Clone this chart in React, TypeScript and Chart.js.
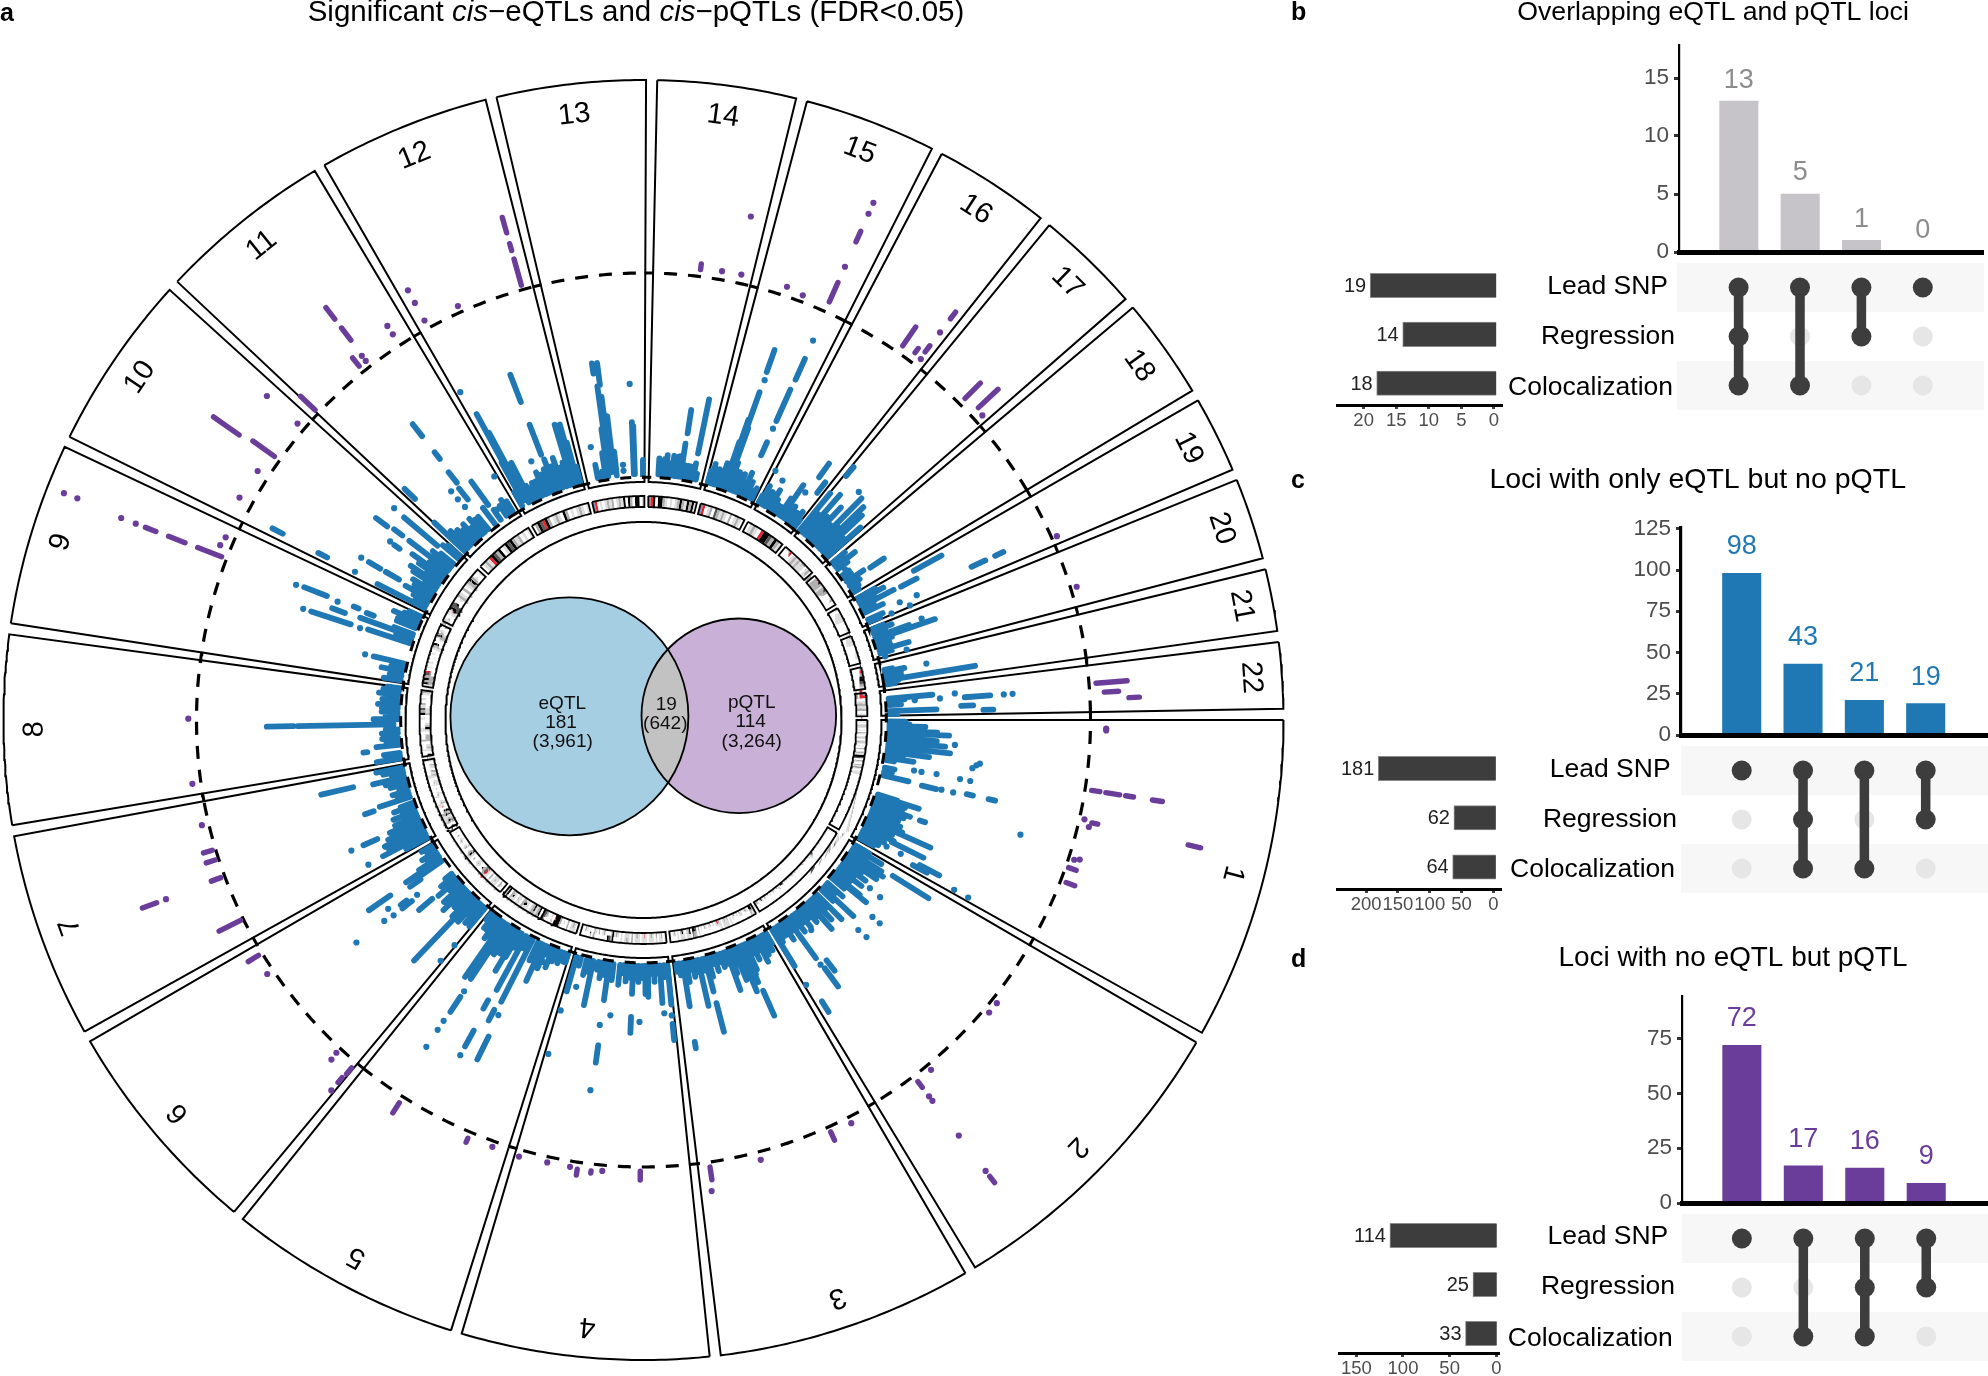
import React, { useEffect, useRef } from "react";
import { Chart, registerables } from "chart.js";

Chart.register(...registerables);

// ---------- genome ----------
const chromosomes = ["1","2","3","4","5","6","7","8","9","10","11","12","13","14","15","16","17","18","19","20","21","22"];
const chromLengthsMb = [249,243,198,191,181,171,159,146,141,136,135,133,115,107,102,90,81,78,59,63,48,51];

// ---------- eQTL loci: [Mb, value] is one lead point, [Mb, low, high] a run of points ----------
const chr1E = [[3,2,6],[8,2,7],[12,2,11],[16,2,7],[21,2,14],[25,2,17],[30,2,8],[35,2,14],[39,18.6],[40,2,7],[43,2,16.2],[48,2,9],[53,2,17.6],[58,2,8],[63,2,12.5],[63,25.3],[66,24.5],[71,23.6],[70,2,6],[75,2,8.8],[80,2,4],[90,9.3],[90,11.2],[89,15],[90,21],[90,23.6],[95,2,4.5],[103,2,4],[111,2,8.5],[113,12,15.7],[112,17],[112,20],[110,23.4,25],[110,29,30.7],[144,39],[150,2,7],[152,2,12.8],[155,2,7],[158,2,9.5],[161,2,7],[165,2,9],[168,2,6],[170,8.3,11.4],[170,14,15.4],[173,2,7],[176,2,10],[180,2,7],[184,2,9],[188,2,7],[192,2,10],[196,2,7],[200,2,11],[204,4,19],[208,2,7],[212,2,9],[216,2,6],[220,2,10],[223,9.7,18.5],[227,2,6],[230,2,8],[234,2,6],[234,9],[234,13],[236,18.5,24],[239,2,7],[241,17,21],[244,29],[244,33],[244,2,6]];
const chr2E = [[3,2,6],[8,2,10],[15,14,24.5],[13,2,6],[19,2,11],[25,2,12],[30,2,6],[35,2,11],[42,2,7],[48,2,9],[54,11],[56,14.4],[55,2,6],[60,2,9],[66,2,6],[74,2,10],[77,2,12.4],[83,2,6],[89,16],[89,18.4],[96,2,7],[102,2,5],[109,2,12.3],[114,2,6],[119,18.3],[120,15.6],[127,2,10.7],[133,2,6],[140,2,9],[146,2,5],[151,2,10.8],[157,2,6],[163,2,7],[170,2,5],[177,2,7],[180,7.7],[185,2,5],[191,16,19.3],[191,2,7],[197,2,5],[201,17.4,23],[203,2,14],[203,16],[210,2,5],[216,2,7],[222,2,5],[228,2,5],[233,23.8,26.9],[235,2,6],[240,2,12.7],[240,18.2]];
const chr3E = [[3,2,5],[8,2,6.5],[13,2,5],[18,2,7],[25,2,8.5],[31,2,5],[37,2,7],[43,2,5],[49,2,9],[54,14.5,21.3],[54,2,10],[56,2,12],[60,2,6],[64,2,14],[68,2,7],[73,2,10.4],[78,2,6],[84,2,8],[89,2,12.2],[95,2,5],[102,2,5.5],[108,2,4],[115,2,6],[122,2,4],[128,2,7],[134,13.6,21],[134,2,10.6],[140,2,5],[148,2,13.8],[154,2,5],[160,2,6],[166,2,4],[172,2,7],[179,2,13],[180,22,23.6],[186,2,5],[192,2,4]];
const chr4E = [[4,16.8,20.9],[4,14.7],[3,2,12],[10,2,5],[16,14],[18,2,11.4],[24,2,4],[30,2,6],[36,2,4],[42,2,9.7],[47,2,9],[52,2,5],[57,16],[60,2,6],[66,2,4],[71,14.8,18.8],[71,2,9],[77,2,5],[84,2,6],[90,2,4],[97,2,7],[105,14.8],[110,2,6],[118,22.6,27],[120,17.5],[120,34],[119,2,11.2],[126,2,5],[133,2,6],[140,2,4],[151,2,13.3],[157,2,5],[164,2,6],[171,9.3],[176,2,4],[185,2,11],[186,16],[186,27.3]];
const chr5E = [[3,2,4.2],[7,2,4.2],[12,2,3.5],[17,2,5],[22,2,3.5],[28,2,5],[35,2,7],[40,2,4],[43,6],[48,2,8],[52,2,5],[57,2,12],[62,2,6],[67,2,7],[73,28.6,35],[74,22.7],[79,2,19.4],[83,22,25],[88,2,5],[94,2,17.3],[95,29,33.5],[95,36],[98,20.6,23],[104,2,6],[108,2,9],[111,2,13.3],[116,2,7],[120,2,9],[124,2,7],[128,2,10],[132,2,8],[136,23.5,28],[136,21.8],[137,30.8],[137,33.5],[137,38.6],[136,2,10],[140,2,8],[147,2,18.7],[138,2,18.3],[152,2,7],[158,2,8],[164,2,6],[170,2,6],[176,2,4]];
const chr6E = [[3,19.2],[2,14],[3,2,8],[8,2,5],[13,2,8],[18,2,6],[24,2,9],[28,2,6],[33,5,23.6],[38,2,9],[42,2,6],[47,2,7],[52,2,5],[57,2,9.5],[62,2,5],[67,2,8],[75,2,5],[82,2,8],[85,9.7,14],[92,2,6],[98,2,4],[104,14,17],[104,19.8],[106,22.5],[106,31.3],[110,15,16.8],[107,12],[117,19.9],[125,9,12.2],[130,2,8],[132,17.5,24],[135,7,12.4],[140,2,8],[146,2,5],[152,2,6],[160,2,4],[166,2,5]];
const chr7E = [[5,2,8],[12,18.2],[13,2,14],[18,2,8],[22,2,12],[26,2,12.5],[30,2,9],[34,2,11],[38,2,7],[43,13.4,17.2],[43,20.5],[44,2,9.9],[48,2,6],[52,2,8],[58,2,5],[63,2,7.8],[70,2,5],[75,2,7],[80,2,5],[89,11.7,14],[93,2,9.9],[100,2,5],[106,2,6],[113,2,4],[120,2,6],[127,2,7],[134,2,10],[137,15,23.2],[142,2,5],[147,2,7],[153,2,8.6]];
const chr8E = [[4,2,8],[10,2,5],[15,2,6],[24,10,11],[31,2,7.6],[38,2,5],[45,2,6],[55,2,6],[62,2,5],[72,3,27],[72,28,34.7],[82,2,8],[90,2,5],[96,2,6],[104,2,6],[110,2,7],[120,2,6],[131,2,7],[139,2,6],[144,2,5]];
const chr9E = [[5,2,6.3],[14,2,5],[23,2,7.3],[30,2,5],[39,2,9.8],[39,12],[80,17.5,27.9],[80,30],[79,15],[81,2,13],[90,2,6],[95,2,15.8],[94,19.8,23.2],[100,2,7],[106,12.8,14.7],[106,22.5],[107,33.7],[108,25.5,31.6],[108,17,18.3],[113,2,7],[118,2,7],[122,2,6],[127,2,8.6],[132,2,6],[138,2,5]];
const chr10E = [[7,2,15.2],[8,21.6],[8,29.4,31.9],[9,42,44.9],[14,2,5],[20,2,6],[27,2,8.8],[31,11,14.8],[31,16.4,19.7],[31,21.9],[37,2,7],[44,2,8],[50,2,5],[56,2,9],[62,2,10.3],[68,2,6],[75,15,16.6],[76,18],[74,2,9],[80,2,11.6],[86,2,7],[92,20.8,24.3],[95,16.4,19],[95,2,14.2],[100,2,7],[106,2,8],[112,2,6],[119,8,18.9],[120,22.3],[126,2,7],[132,2,6]];
const chr11E = [[1,2,12.4],[5,2,7],[7,20,23.6],[10,2,8],[15,2,6],[20,2,7],[28,2,6],[35,2,7],[42,2,5],[50,2,7],[56,2,6],[57,12.6],[57,15.2],[58,10],[65,2,6],[70,11,14.5],[73,16,19.3],[75,23.3,25.4],[75,30.5,34.3],[82,2,7],[93,6.8,14],[96,2,5],[102,4.6],[110,2,5],[118,2,6],[125,2,5],[130,11.9]];
const chr12E = [[3,2,6],[6,34.4],[9,3,14],[11,3,27.6],[14,3,22],[18,2,10],[23,2,12.8],[28,2,6],[35,2,5],[40,2,6],[47,2,6],[55,2,8],[55,11],[62,2,7],[70,2,8],[75,11.6,19.6],[75,25.7,33],[77,2,10.2],[85,2,8],[92,2,9.8],[100,2,7],[106,2,8],[112,2,17.6],[116,2,16],[120,2,17.3],[123,2,12.4],[128,2,6]];
const chr13E = [[20,10],[22,2,5.4],[28,2,3],[33,2,3.5],[38,2,8],[43,2,14],[43,28,30.6],[46,3,24.7],[50,25,30.5],[50,3,22],[52,3,17],[55,3,17],[60,2,8],[74,4.5],[74,3],[93,24.6],[94,2,15],[96,2,14],[112,2,5.5]];
const chr14E = [[19,2,6],[22,2,5],[26,2,5.5],[30,2,6],[34,2,7],[40,2,5],[46,2,7],[52,2,6],[55,2,7],[60,2,7.3],[63,2,10.4],[64,13,18.9],[70,2,5],[75,2,5],[80,2,5],[88,8.5,22.3],[88,2,6],[94,2,3.5]];
const chr15E = [[3,2,5],[8,2,7],[13,2,5],[18,2,6],[23,2,5],[28,2,8],[33,2,6],[36,2,14],[38,2,20],[40,2,27.4],[41,30.7],[40,32.8,38.6],[42,2,18],[46,2,9],[50,2,5],[55,2,7],[60,2,5],[65,2,7],[70,2,5],[76,2,8],[78,12.9,16.5],[78,20.2],[78,22.3,30.9],[79,33.7,39.4],[79,44.4],[84,2,6],[90,2,4],[96,2,5]];
const chr16E = [[1,11],[1,2,4],[5,2,7],[10,2,5],[15,2,6],[20,9.7],[25,2,7.3],[31,2,5],[36,2,4],[44,2,4],[50,2,7],[55,2,11.5],[60,2,5],[65,10.3],[65,2,6],[69,15.4,19.6],[75,2,5],[82,12,15.3],[82,2,6],[87,2,4]];
const chr17E = [[1,2,13.9],[3,19.8,22.7],[8,2,8],[15,2,15.2],[23,2,9],[30,2,13],[34,18.9],[38,2,8],[44,2,18.2],[50,2,9],[56,2,17],[64,2,15.3],[71,2,8],[77,2,13]];
const chr18E = [[3,2,6],[8,2,5],[14,2,8],[20,2,5],[29,3.4],[35,2,4],[42,2,4],[50,2,7],[53,8.8,12.9],[60,2,5],[68,2,4],[75,2,3.5]];
const chr19E = [[3,2,7],[9,2,9],[9,17.7,25.6],[15,2,6],[21,2,11],[22,13,17.4],[28,2,5],[35,2,7],[42,31,34.8],[42,37.5,39.8],[45,11],[46,15.6],[50,2,6],[57,13],[57,8],[55,2,5]];
const chr20E = [[3,2,5],[8,2,7],[12,2,5],[17,14.5],[20,2,11],[25,2,17.6],[30,2,6],[35,2,5],[40,2,5],[48,2,9.6],[54,2,5],[60,8.6],[62,3]];
const chr21E = [[16,2,4],[20,2,7],[20,12.6],[25,2,6],[30,2,5],[33,2,6],[37,2,24.5],[40,2,5],[45,2,4]];
const chr22E = [[17,2,13],[18,18.6],[21,2,6],[24,14.8],[24,8.5],[25,21,27.4],[25,30.8],[25,33],[30,2,5],[38,20,23],[42,2,13.8],[45,25.5,28],[48,2,4]];
const eqtlByChrom = [chr1E,chr2E,chr3E,chr4E,chr5E,chr6E,chr7E,chr8E,chr9E,chr10E,chr11E,chr12E,chr13E,chr14E,chr15E,chr16E,chr17E,chr18E,chr19E,chr20E,chr21E,chr22E];

// ---------- pQTL loci ----------
const chr1P = [[9,56.2],[11,56.2],[76,53.9,56],[76,57.5,61],[76,62.5,64.5],[76,69.3,71.8],[110,80.2,83.4],[108,53.5],[110,55.5,57],[115,55],[153,53.7],[151,55],[163,53,55],[179,53.7,56]];
const chr2P = [[72,53.7],[85,53.7],[173,53.7],[192,54,55.8],[192,58.6],[192,60],[192,70.9],[192,82],[192,83.7,85.7]];
const chr3P = [[25,53.9],[49,53.6,55.9],[130,54.3],[185,53.5,56.7],[187,59.5]];
const chr4P = [[54,53.3,55.5],[95,53.7],[107,54,54.5],[122,54,55.5],[130,53.7],[155,53.7],[186,54]];
const chr5P = [[17,53.7],[45,53.9,55],[128,54,57]];
const chr6P = [[2,54,56],[3,57.4,59],[3,61.6],[24,55.8],[25,53.7],[138,54],[160,53.3,56.3]];
const chr7P = [[23,53,59],[73,70.5,74.3],[73,68],[74,53.3,55.8],[94,53.2,55.5],[105,53.1,55.4],[134,54]];
const chr8P = [[12,54.4],[82,54.3]];
const chr9P = [[106,53.6,60],[106,63.4,67.8],[106,71.2,74],[106,76.6],[106,80.5],[108,92.5],[108,96.1],[127,54.5],[117,55]];
const chr10P = [[22,55.8],[56,55.3],[79,53.9,60.5],[76,64.2,72],[123,64.7],[122,54.4]];
const chr11P = [[1,53.4,58.4],[68,54,56.6],[77,54],[77,55.6],[117,55.5],[117,58],[78,60.4,64.2],[78,67,70.6]];
const chr12P = [[10,54.4],[10,59.4],[10,63],[49,53.9],[121,53.4,60.2],[121,62.4,64.2],[121,67,71]];
const chr13P = [];
const chr14P = [[51,54,55.4],[74,54.4],[95,54.5],[92,69.2]];
const chr15P = [[30,54.6],[49,53.9],[78,54.9,60.2],[78,64.5],[78,71.3,74.2],[78,79],[78,82]];
const chr16P = [[59,54.3,60],[74,54.7,56],[83,54.3],[82,56.4,58.3],[82,62.5],[82,66.8,68.9]];
const chr17P = [[48,54.2,59.6],[65,55,61.7],[74,54.4]];
const chr18P = [];
const chr19P = [[51,53.6]];
const chr20P = [[42,53.8]];
const chr21P = [];
const chr22P = [[20,54,61.8],[30,55.9,59.5],[37,62,64.6]];
const pqtlByChrom = [chr1P,chr2P,chr3P,chr4P,chr5P,chr6P,chr7P,chr8P,chr9P,chr10P,chr11P,chr12P,chr13P,chr14P,chr15P,chr16P,chr17P,chr18P,chr19P,chr20P,chr21P,chr22P];

const thresholdE = 1.2;
const thresholdP = 52.25;

// ---------- ideogram stains, one letter per band ----------
const ideogramBands = [
  "wlwlglwlwglwlgwlglwlwgwlglkkdwglwgldlwlgrwlwlglwlwlglwlwkkwgkdwlglwlglwlwgkdkwlgwlwg",
  "wlglwlwglwgwlglwlgwkdgkdlwglwlrwlglwlwgwlgwlglwlwglgwdkkwlwgwlglwlwgwlgwlkgwlgl",
  "gkkwlglwlgwlwglwlwglglwlgrlwlwglwlgwlwgwdkkwkglwlkgwlwglwl",
  "lwglwgwlglwlrkwlglwgwlglwlwlglkgdkwglwgwlgwkwlgwl",
  "wlglwgwlwgkkrwlwlgdkwkglkglwlkkgwlgwlkgwkl",
  "wlgwlglwgwlrdgkwlglwgwlkglwglwlglwgwlw",
  "kwgkglkgkwrlglwlglwgwlglwlglgwlgwl",
  "kwlglwgrgwlkglwlwkgdlgwlwlg",
  "lkgkgdrwlwlwlwlwlgkwlgkglwg",
  "lgwlrkdkwlglwgwlgkglwl",
  "wlglrkdgkwlkdkglgwlwl",
  "wgkdrkgwlglwkgwlwlglwl",
  "srwlwlglgwlglkwkgwkkwl",
  "srkwkkglwlwlgkglkgkl",
  "srwlgwdglglwgwlglw",
  "wlglwrkkdgkgl",
  "wlgrwlglglgdwlgw",
  "wgrkgldkgwglgwl",
  "gwlrlgwlglg",
  "glgrwglglgwl",
  "srgkkdgl",
  "srwlglgwl",
];

// ---------- Venn ----------
const vennLabels = ["eQTL", "pQTL"];
const vennLoci = [181, 114, 19];
const vennVariants = ["(3,961)", "(3,264)", "(642)"];

// ---------- UpSet panels ----------
const setNames = ["Lead SNP", "Regression", "Colocalization"];
const bIntersections = [13, 5, 1, 0];
const bSetSizes = [19, 14, 18];
const bMembership = [[1,2,3],[1,3],[1,2],[1]];
const bCountTicks = [0,5,10,15];
const bSizeTicks = [20,15,10,5,0];
const cIntersections = [98, 43, 21, 19];
const cSetSizes = [181, 62, 64];
const cMembership = [[1],[1,2,3],[1,3],[1,2]];
const cCountTicks = [0,25,50,75,100,125];
const cSizeTicks = [200,150,100,50,0];
const dIntersections = [72, 17, 16, 9];
const dSetSizes = [114, 25, 33];
const dMembership = [[1],[1,3],[1,2,3],[1,2]];
const dCountTicks = [0,25,50,75];
const dSizeTicks = [150,100,50,0];

// ---------- layout ----------
const FONT = '"Liberation Sans", Arial, sans-serif';
const W = 1988, H = 1376, CX = 643.5, CY = 720;
const R0 = 238, RU = 4, ROUTER = 640, RCORE = 198;
const GAP = 1, DEG_PER_MB = 338 / 2877;
const IDEO_IN = 213, IDEO_OUT = 224;
const BLUE = "#1f78b4", PURPLE = "#6a3d9a", DARK = "#3d3d3d";
const TEXT_DY = 2;
const stainColors = { w:"#ffffff", l:"#dedede", g:"#b0b0b0", d:"#595959", k:"#000000", r:"#e8262a", s:"#7f8fb8" };

const chromStart = [];
chromLengthsMb.reduce((s, len, i) => { chromStart[i] = s; return s + len * DEG_PER_MB + GAP; }, 0);
const chromEnd = chromStart.map((s, i) => s + chromLengthsMb[i] * DEG_PER_MB);

const atAngle = (deg, r) => ({ x: r * Math.cos(deg * Math.PI / 180), y: -r * Math.sin(deg * Math.PI / 180) });
const locus = (i, mb, v) => atAngle(chromStart[i] + mb * DEG_PER_MB, R0 + v * RU);
const BREAK = { x: NaN, y: NaN };
const arc = (a, b, r) => {
  const n = Math.max(2, Math.ceil(Math.abs(b - a) * 2));
  const pts = [];
  for (let k = 0; k <= n; k++) pts.push(atAngle(a + (b - a) * k / n, r));
  return pts;
};
const lineDs = (data, color, width, order, extra = {}) => ({
  data, showLine: true, borderColor: color, backgroundColor: color, borderWidth: width,
  pointRadius: 0, spanGaps: false, fill: false, tension: 0, order, clip: false, ...extra,
});
const dotDs = (data, color, radius, order, extra = {}) => ({
  data, showLine: false, pointRadius: radius, pointBackgroundColor: color, pointBorderWidth: 0, order, clip: false, ...extra,
});

function lociDatasets(byChrom, color, order, width) {
  const runs = [], dots = [];
  byChrom.forEach((list, i) => list.forEach((l) => {
    if (l.length === 3) {
      runs.push(locus(i, l[0], l[1]), locus(i, l[0], l[2]), BREAK);
    } else {
      dots.push(locus(i, l[0], l[1]));
    }
  }));
  return [
    lineDs(runs, color, width, order, { borderCapStyle: "round" }),
    dotDs(dots, color, 3.1, order),
  ];
}

function buildMainDatasets() {
  const ds = [];
  const frames = [];
  chromosomes.forEach((_, i) => {
    const outer = arc(chromStart[i], chromEnd[i], ROUTER);
    const inner = arc(chromEnd[i], chromStart[i], R0);
    frames.push(...outer, ...inner, outer[0], BREAK);
  });
  ds.push(lineDs(frames, "#000", 2, 50, { borderJoinStyle: "miter" }));
  ds.push(...lociDatasets(eqtlByChrom, BLUE, 40, 5.8));
  chromosomes.forEach((_, i) => {
    ds.push(lineDs(arc(chromStart[i], chromEnd[i], R0 + thresholdE * RU), "#000", 3, 30, { borderDash: [11, 11], borderDashOffset: 11 }));
    ds.push(lineDs(arc(chromStart[i], chromEnd[i], R0 + thresholdP * RU), "#000", 3.2, 30, { borderDash: [13, 11], borderDashOffset: 13 }));
  });
  const marks = [];
  chromosomes.forEach((_, i) => {
    const next = chromStart[(i + 1) % 22] + (i === 21 ? 360 : 0);
    marks.push(...arc(chromEnd[i] - 0.1, next + 0.1, R0 + thresholdP * RU), BREAK);
    marks.push(...arc(chromEnd[i] - 0.6, next + 0.6, R0 + thresholdE * RU), BREAK);
  });
  ds.push(lineDs(marks, "#000", 3, 30));
  ds.push(...lociDatasets(pqtlByChrom, PURPLE, 20, 5.4));
  Object.keys(stainColors).forEach((stain) => {
    const cells = [];
    ideogramBands.forEach((bands, i) => {
      const step = (chromEnd[i] - chromStart[i]) / bands.length;
      [...bands].forEach((b, k) => {
        if (b === stain) cells.push(...arc(chromStart[i] + k * step, chromStart[i] + (k + 1) * step, (IDEO_IN + IDEO_OUT) / 2), BREAK);
      });
    });
    ds.push(lineDs(cells, stainColors[stain], IDEO_OUT - IDEO_IN, 15));
  });
  const ideoFrames = [];
  chromosomes.forEach((_, i) => {
    const o = arc(chromStart[i], chromEnd[i], IDEO_OUT);
    const n = arc(chromEnd[i], chromStart[i], IDEO_IN);
    ideoFrames.push(...o, ...n, o[0], BREAK);
  });
  ds.push(lineDs(ideoFrames, "#000", 1.8, 14));
  ds.push(lineDs(arc(0, 360, RCORE), "#000", 2, 13));
  return ds;
}

const vennE = { x: 569.4 - CX, y: CY - 716.3, r: 119 };
const vennP = { x: 738.8 - CX, y: CY - 715.8, r: 97.3 };

const textItems = [
  { s:"a", x:0, y:12, bold:true, size:25, align:"left" },
  { s:"b", x:1291, y:11, bold:true, size:25, align:"left" },
  { s:"c", x:1291, y:479, bold:true, size:25, align:"left" },
  { s:"d", x:1291, y:958, bold:true, size:25, align:"left" },
  { s:"Overlapping eQTL and pQTL loci", x:1713, y:11, size:26.7, align:"center" },
  { s:"Loci with only eQTL but no pQTL", x:1697.7, y:478, size:28.5, align:"center" },
  { s:"Loci with no eQTL but pQTL", x:1733, y:956.7, size:27.9, align:"center" },
];
const setLabelX = [[1668,1675,1673],[1670.6,1677,1675],[1668.3,1675,1672.8]];
const setLabelY = [[285,334.3,385.7],[768,817.7,868],[1235,1285,1336.7]];
const titleRuns = [["Significant ",false],["cis",true],["\u2212eQTLs and ",false],["cis",true],["\u2212pQTLs (FDR<0.05)",false]];

const mainPlugin = {
  id: "mainDecor",
  afterDatasetsDraw(chart) {
    const { ctx, scales: { x, y } } = chart;
    const px = (p) => ({ x: x.getPixelForValue(p.x), y: y.getPixelForValue(p.y) });
    const E = px(vennE), P = px(vennP);
    const disc = (c, r) => { ctx.beginPath(); ctx.arc(c.x, c.y, r, 0, Math.PI * 2); };
    ctx.save();
    disc(E, vennE.r); ctx.fillStyle = "#a6cee3"; ctx.fill();
    disc(P, vennP.r); ctx.fillStyle = "#c8b0d6"; ctx.fill();
    ctx.save(); disc(E, vennE.r); ctx.clip(); disc(P, vennP.r); ctx.fillStyle = "#c2c2c2"; ctx.fill(); ctx.restore();
    ctx.strokeStyle = "#000"; ctx.lineWidth = 1.8;
    disc(E, vennE.r); ctx.stroke();
    disc(P, vennP.r); ctx.stroke();
    ctx.fillStyle = "#111"; ctx.textAlign = "center"; ctx.textBaseline = "middle";
    ctx.font = `19px ${FONT}`;
    ctx.fillText(vennLabels[0], x.getPixelForValue(562.3 - CX), 702 + TEXT_DY);
    ctx.fillText(String(vennLoci[0]), x.getPixelForValue(561 - CX), 720.5 + TEXT_DY);
    ctx.fillText(vennVariants[0], x.getPixelForValue(562.7 - CX), 740 + TEXT_DY);
    ctx.fillText(vennLabels[1], x.getPixelForValue(751.7 - CX), 701 + TEXT_DY);
    ctx.fillText(String(vennLoci[1]), x.getPixelForValue(750.7 - CX), 719.5 + TEXT_DY);
    ctx.fillText(vennVariants[1], x.getPixelForValue(751.7 - CX), 739.5 + TEXT_DY);
    ctx.fillText(String(vennLoci[2]), x.getPixelForValue(666.3 - CX), 702.5 + TEXT_DY);
    ctx.fillText(vennVariants[2], x.getPixelForValue(665.3 - CX), 722 + TEXT_DY);

    ctx.font = `29px ${FONT}`; ctx.fillStyle = "#000";
    chromosomes.forEach((name, i) => {
      const mid = (chromStart[i] + chromEnd[i]) / 2;
      const p = px(atAngle(mid, 609));
      ctx.save();
      ctx.translate(p.x, p.y);
      ctx.rotate((mid + 90) * Math.PI / 180);
      ctx.fillText(name, 0, 0);
      ctx.restore();
    });

    textItems.forEach((t) => {
      ctx.font = `${t.bold ? "bold " : ""}${t.size}px ${FONT}`;
      ctx.textAlign = t.align; ctx.fillStyle = "#000";
      ctx.fillText(t.s, t.x, t.y + TEXT_DY);
    });
    const fontOf = (it) => `${it ? "italic " : ""}29.5px ${FONT}`;
    let total = 0;
    titleRuns.forEach(([s, it]) => { ctx.font = fontOf(it); total += ctx.measureText(s).width; });
    let tx = 636 - total / 2;
    ctx.textAlign = "left";
    titleRuns.forEach(([s, it]) => { ctx.font = fontOf(it); ctx.fillText(s, tx, 11 + TEXT_DY); tx += ctx.measureText(s).width; });

    ctx.font = `26.5px ${FONT}`; ctx.textAlign = "right"; ctx.fillStyle = "#000";
    setLabelX.forEach((xs, pi) => xs.forEach((xp, k) => ctx.fillText(setNames[k], xp, setLabelY[pi][k] + TEXT_DY)));
    ctx.restore();
  },
};

const mainConfig = () => ({
  type: "scatter",
  data: { datasets: buildMainDatasets() },
  options: {
    responsive: false, animation: false, events: [],
    layout: { padding: 0, autoPadding: false },
    plugins: { legend: { display: false }, tooltip: { enabled: false } },
    scales: {
      x: { type: "linear", display: false, min: -CX, max: W - CX },
      y: { type: "linear", display: false, min: -(H - CY), max: CY },
    },
  },
  plugins: [mainPlugin],
});

const panels = [
  { bars:bIntersections, sizes:bSetSizes, member:bMembership, countTicks:bCountTicks, sizeTicks:bSizeTicks,
    color:"#c6c4c8", labelColor:"#8c8c8c", labelGap:23, axisX:1678.7, axisTop:45, base:252, unit:11.6, axisW:2.2,
    firstBar:1738.5, barStep:61.3, right:1983.5, matLeft:1677, matRow:287.7, sideZero:1493.6, sideUnit:6.5, sideL:1337, sideR:1501.7, sideY:405.3, sideRow:285.5, sideBase:-0.37 },
  { bars:cIntersections, sizes:cSetSizes, member:cMembership, countTicks:cCountTicks, sizeTicks:cSizeTicks,
    color:BLUE, labelColor:BLUE, labelGap:28.5, axisX:1681, axisTop:528.3, base:735.3, unit:1.65, axisW:3.2,
    firstBar:1741.7, barStep:61.33, right:1988, matLeft:1681, matRow:770.3, sideZero:1493.6, sideUnit:0.6368, sideL:1337, sideR:1501.3, sideY:888.7, sideRow:768.7, sideBase:-4 },
  { bars:dIntersections, sizes:dSetSizes, member:dMembership, countTicks:dCountTicks, sizeTicks:dSizeTicks,
    color:PURPLE, labelColor:PURPLE, labelGap:28.5, axisX:1682.3, axisTop:996, base:1203, unit:2.19, axisW:2.2,
    firstBar:1742.1, barStep:61.4, right:1988, matLeft:1682.3, matRow:1238, sideZero:1495.8, sideUnit:0.93, sideL:1339, sideR:1498.5, sideY:1353, sideRow:1235.5, sideBase:-0.5 },
];
const ROW_STEP = 49;

function countChart(p) {
  const YW = 60, PAD = 20;
  const rect = { left: p.axisX - YW, top: p.axisTop - PAD, width: p.right - (p.axisX - YW), height: p.base - p.axisTop + 2 * PAD };
  const config = {
    type: "bar",
    data: { datasets: [{ data: p.bars.map((v, i) => ({ x: i + 1, y: v })), backgroundColor: p.color, barThickness: 38.4 }] },
    options: {
      responsive: false, animation: false, events: [],
      layout: { padding: { top: PAD, bottom: PAD, left: 0, right: 0 }, autoPadding: false },
      plugins: { legend: { display: false }, tooltip: { enabled: false } },
      scales: {
        x: {
          type: "linear", offset: false, min: 1 - (p.firstBar - p.axisX) / p.barStep,
          max: 4 + (p.right - p.firstBar - 3 * p.barStep) / p.barStep,
          afterFit: (s) => { s.height = 0; },
          ticks: { display: false }, grid: { display: false, offset: false },
          border: { display: true, color: "#000", width: 5, z: 2 },
        },
        y: {
          type: "linear", min: 0, max: (p.base - p.axisTop) / p.unit,
          afterFit: (s) => { s.width = YW; },
          afterBuildTicks: (s) => { s.ticks = p.countTicks.map((value) => ({ value })); },
          ticks: { font: { family: FONT, size: 22.5 }, color: "#4d4d4d", padding: 5, autoSkip: false },
          grid: { display: true, drawOnChartArea: false, drawTicks: true, tickLength: 5, tickWidth: 3, tickColor: "#333" },
          border: { display: true, color: "#000", width: p.axisW },
        },
      },
    },
    plugins: [{
      id: "countLabels",
      afterDatasetsDraw(chart) {
        const { ctx, scales: { x, y } } = chart;
        ctx.save();
        ctx.font = `27px ${FONT}`; ctx.fillStyle = p.labelColor; ctx.textAlign = "center"; ctx.textBaseline = "middle";
        p.bars.forEach((v, i) => ctx.fillText(String(v), x.getPixelForValue(i + 1), y.getPixelForValue(v) - p.labelGap + TEXT_DY));
        ctx.restore();
      },
    }],
  };
  return { rect, config };
}

function sizeChart(p) {
  const PADX = 12, XH = 30;
  const top = p.sideRow - ROW_STEP / 2;
  const rect = { left: p.sideL - PADX, top, width: p.sideR - p.sideL + 2 * PADX, height: p.sideY - top + XH };
  const config = {
    type: "bar",
    data: { datasets: [{
      data: p.sizes.map((v, i) => ({ x: v, y: i + 1 })),
      base: p.sideBase, backgroundColor: DARK, borderColor: "#8a8a8a", borderWidth: 1, barThickness: 24.4,
    }] },
    options: {
      indexAxis: "y",
      responsive: false, animation: false, events: [],
      layout: { padding: { left: PADX, right: PADX, top: 0, bottom: 0 }, autoPadding: false },
      plugins: { legend: { display: false }, tooltip: { enabled: false } },
      scales: {
        y: { type: "linear", display: false, offset: false, grid: { offset: false }, reverse: true, min: 0.5, max: 1 + (p.sideY - p.sideRow) / ROW_STEP },
        x: {
          type: "linear", reverse: true,
          min: -(p.sideR - p.sideZero) / p.sideUnit, max: (p.sideZero - p.sideL) / p.sideUnit,
          afterFit: (s) => { s.height = XH; },
          afterBuildTicks: (s) => { s.ticks = p.sizeTicks.map((value) => ({ value })); },
          ticks: { font: { family: FONT, size: 18.5 }, color: "#4d4d4d", padding: 1, maxRotation: 0, autoSkip: false },
          grid: { display: true, drawOnChartArea: false, drawTicks: true, tickLength: 4, tickWidth: 3, tickColor: "#444" },
          border: { display: true, color: "#000", width: 3 },
        },
      },
    },
    plugins: [{
      id: "sizeLabels",
      afterDatasetsDraw(chart) {
        const { ctx, scales: { x, y } } = chart;
        ctx.save();
        ctx.font = `20px ${FONT}`; ctx.fillStyle = "#222"; ctx.textAlign = "right"; ctx.textBaseline = "middle";
        p.sizes.forEach((v, i) => ctx.fillText(String(v), x.getPixelForValue(v) - 4, y.getPixelForValue(i + 1) + 1));
        ctx.restore();
      },
    }],
  };
  return { rect, config };
}

function matrixChart(p) {
  const top = p.matRow - ROW_STEP / 2;
  const rect = { left: p.matLeft, top, width: p.right - p.matLeft, height: 3 * ROW_STEP };
  const xmin = 1 - (p.firstBar - p.matLeft) / p.barStep;
  const xmax = 4 + (p.right - p.firstBar - 3 * p.barStep) / p.barStep;
  const stripes = [{ x: xmin, y: 1 }, { x: xmax, y: 1 }, BREAK, { x: xmin, y: 3 }, { x: xmax, y: 3 }];
  const active = [], inactive = [], links = [];
  p.member.forEach((rows, c) => {
    [1, 2, 3].forEach((r) => (rows.includes(r) ? active : inactive).push({ x: c + 1, y: r }));
    if (rows.length > 1) links.push({ x: c + 1, y: rows[0] }, { x: c + 1, y: rows[rows.length - 1] }, BREAK);
  });
  const config = {
    type: "scatter",
    data: { datasets: [
      lineDs(stripes, "#f7f7f7", ROW_STEP, 4),
      dotDs(inactive, "#e6e6e6", 10, 3),
      lineDs(links, DARK, 9.5, 2),
      dotDs(active, DARK, 10, 1),
    ] },
    options: {
      responsive: false, animation: false, events: [],
      layout: { padding: 0, autoPadding: false },
      plugins: { legend: { display: false }, tooltip: { enabled: false } },
      scales: {
        x: { type: "linear", display: false, min: xmin, max: xmax },
        y: { type: "linear", display: false, reverse: true, min: 0.5, max: 3.5 },
      },
    },
  };
  return { rect, config };
}

function ChartCanvas({ rect, config }) {
  const ref = useRef(null);
  useEffect(() => {
    const chart = new Chart(ref.current, config);
    return () => chart.destroy();
  }, []);
  return (
    <canvas
      ref={ref}
      width={Math.round(rect.width)}
      height={Math.round(rect.height)}
      style={{ position: "absolute", left: rect.left, top: rect.top, width: Math.round(rect.width), height: Math.round(rect.height), display: "block" }}
    />
  );
}

export default function App() {
  useEffect(() => {
    document.body.style.margin = "0";
    document.body.style.background = "#fff";
  }, []);
  const subs = [];
  panels.forEach((p) => subs.push(matrixChart(p), countChart(p), sizeChart(p)));
  return (
    <div style={{ position: "absolute", left: 0, top: 0, width: W, height: H, overflow: "hidden", background: "#fff" }}>
      <ChartCanvas rect={{ left: 0, top: 0, width: W, height: H }} config={mainConfig()} />
      {subs.map((s, i) => <ChartCanvas key={i} rect={s.rect} config={s.config} />)}
    </div>
  );
}
